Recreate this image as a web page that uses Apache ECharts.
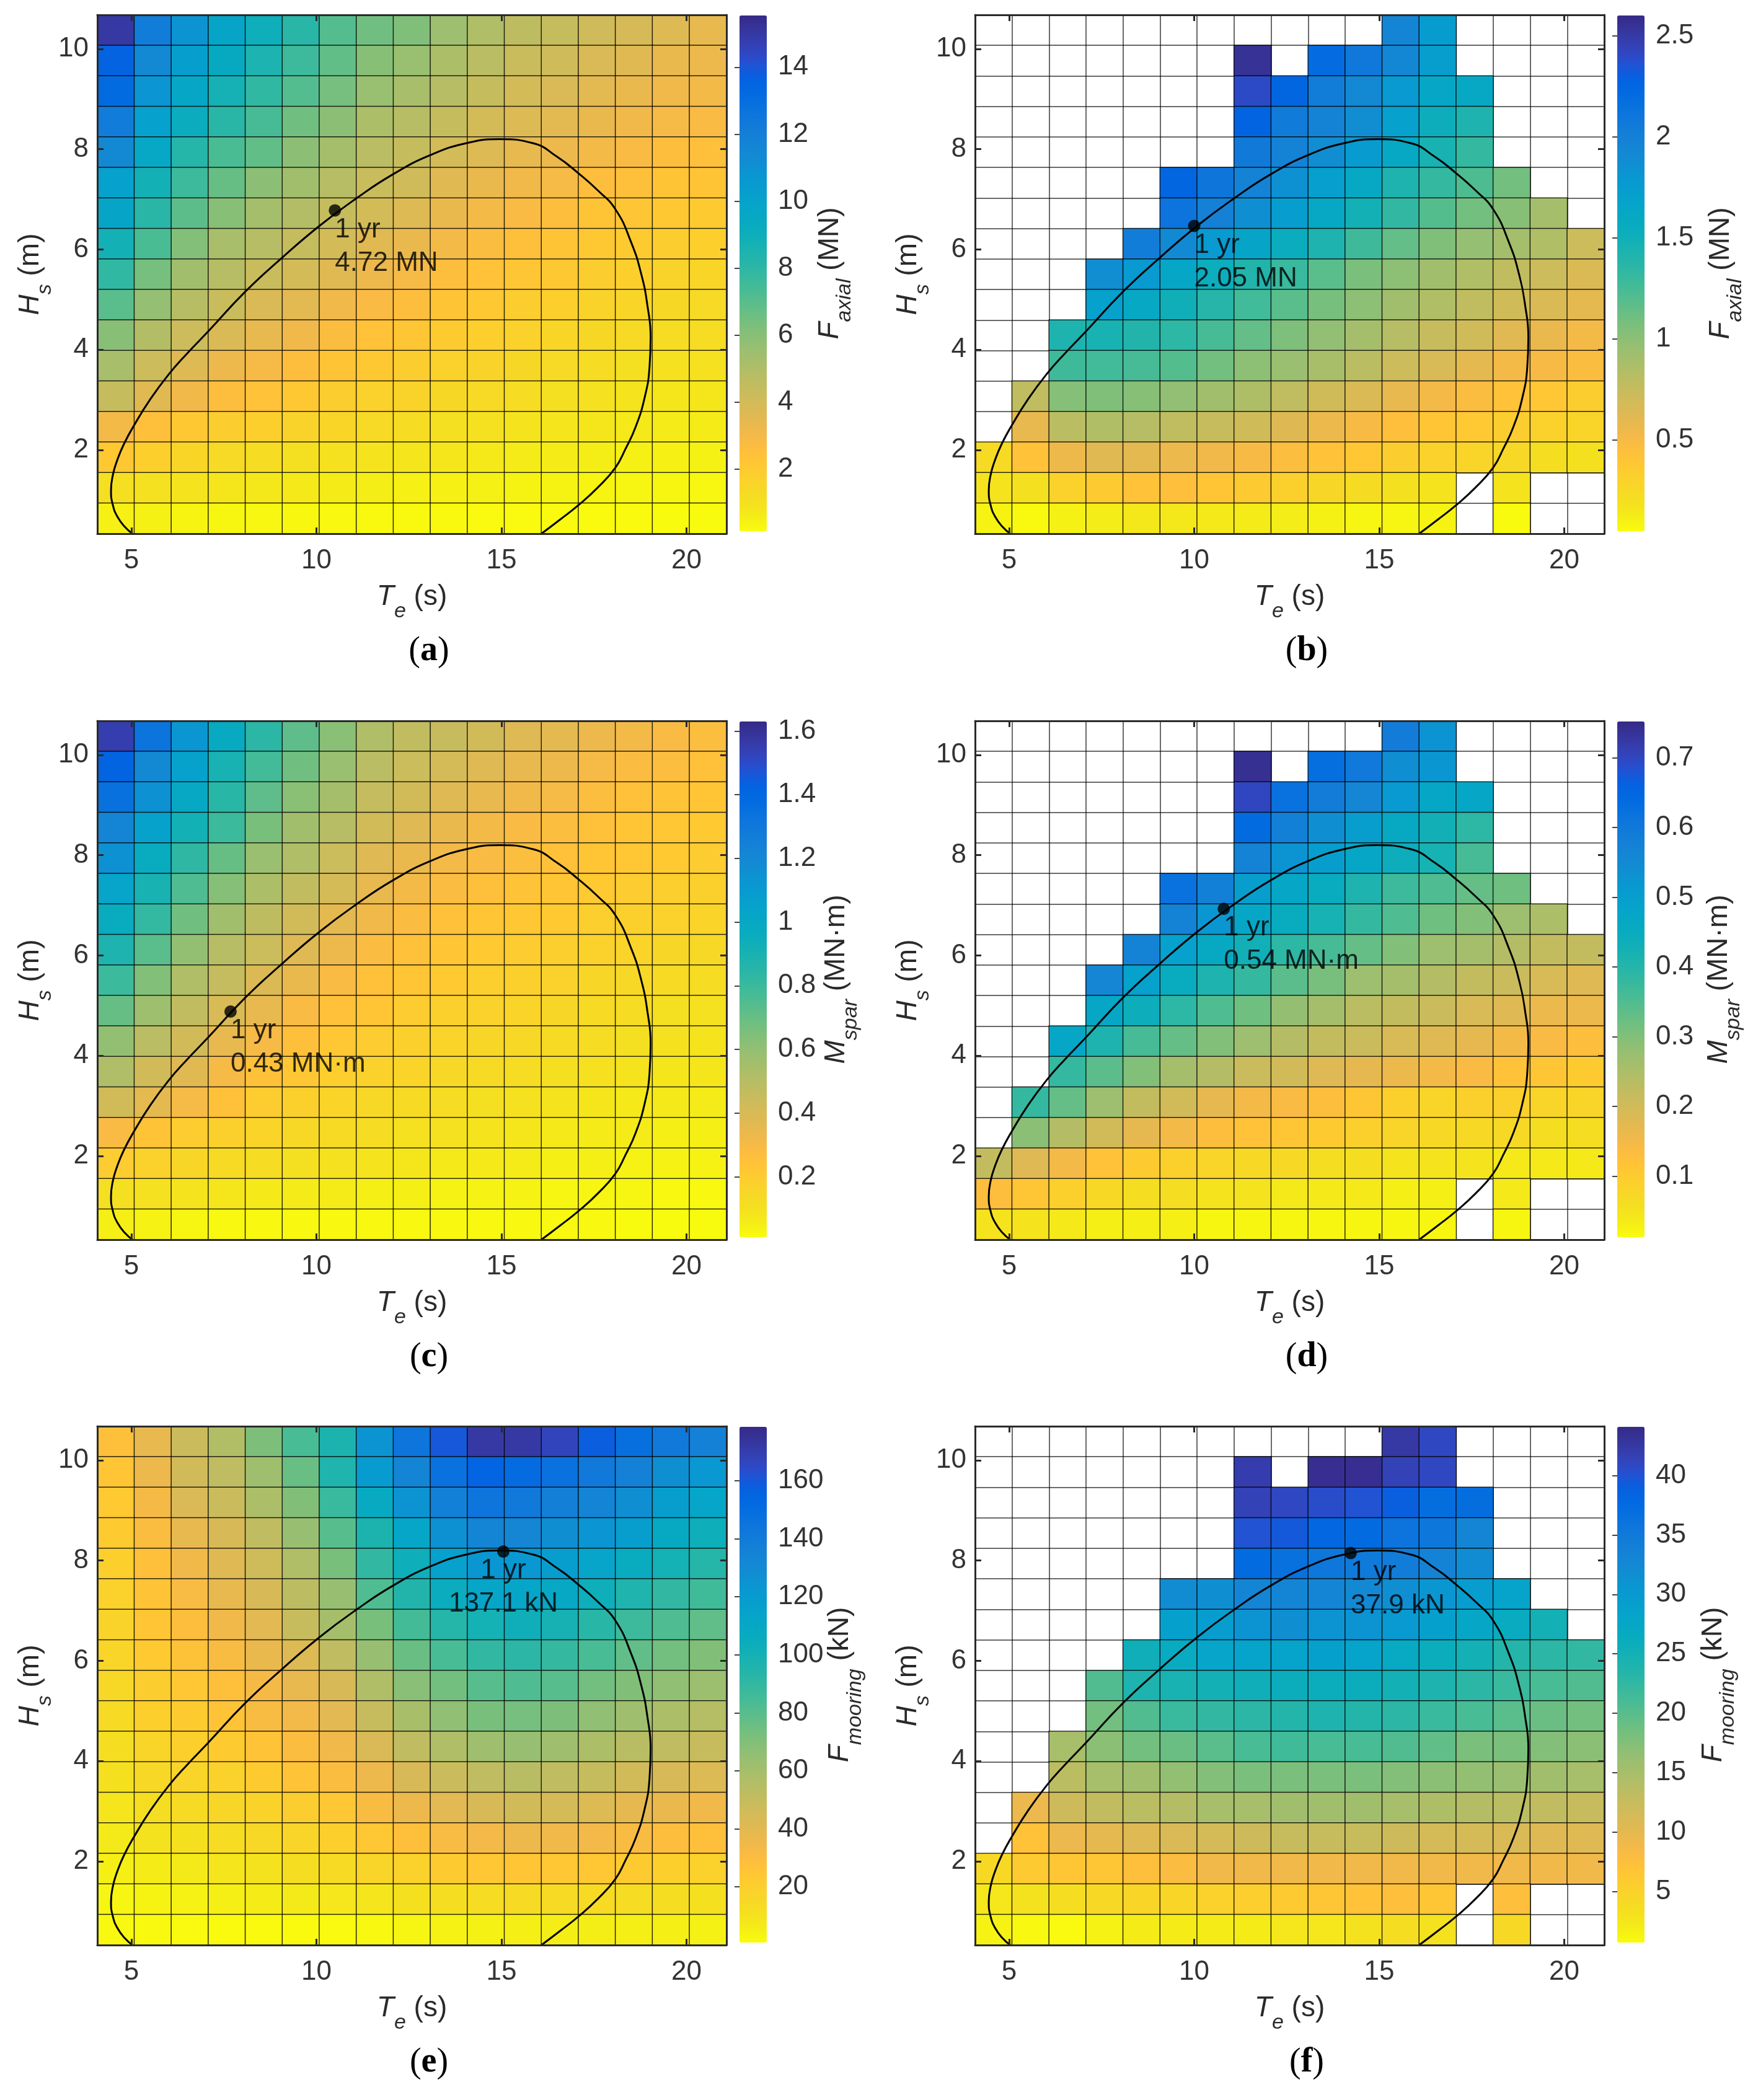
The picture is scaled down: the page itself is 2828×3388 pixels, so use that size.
<!DOCTYPE html>
<html>
<head>
<meta charset="utf-8">
<style>html,body{margin:0;padding:0;background:#fff}#c{width:2828px;height:3388px}</style>
<script src="https://cdn.jsdelivr.net/npm/echarts@6/dist/echarts.min.js"></script>
</head>
<body>
<div id="c"></div>
<script>
const _ = null;
// cell centres of the sea-state grid
const teCells = [4.58,5.58,6.58,7.58,8.58,9.58,10.58,11.58,12.58,13.58,14.58,15.58,16.58,17.58,18.58,19.58,20.58];
const hsCells = [0.63,1.24,1.85,2.46,3.07,3.68,4.29,4.89,5.5,6.11,6.72,7.33,7.94,8.55,9.16,9.77,10.37];
const teTicks = [5,10,15,20];
const hsTicks = [2,4,6,8,10];

// rows run from the top of the panel (largest Hs) to the bottom
const axialA = [
[15.0,12.1,10.9,9.8,9.0,8.1,7.1,6.5,6.2,5.5,5.0,4.6,4.4,4.1,3.9,3.7,3.4],
[13.6,11.4,10.2,9.4,8.5,7.6,6.8,6.0,5.6,5.1,4.7,4.3,4.1,3.8,3.6,3.3,3.2],
[13.2,10.8,9.7,8.7,7.9,7.1,6.4,5.6,5.2,4.8,4.4,4.0,3.8,3.5,3.3,3.1,3.0],
[12.2,10.1,9.2,8.1,7.4,6.5,5.9,5.1,4.8,4.4,4.0,3.7,3.5,3.3,3.1,2.9,2.8],
[11.4,9.6,8.2,7.3,6.8,5.9,5.3,4.7,4.4,4.0,3.7,3.4,3.2,3.0,2.8,2.6,2.5],
[10.1,8.8,7.6,6.7,5.9,5.4,4.8,4.3,4.1,3.6,3.3,3.1,2.9,2.6,2.5,2.3,2.3],
[9.8,8.1,6.9,6.0,5.3,4.9,4.4,4.0,3.7,3.3,3.0,2.8,2.6,2.3,2.2,2.1,2.0],
[8.8,7.3,6.1,5.2,4.8,4.4,4.0,3.6,3.3,3.0,2.7,2.5,2.3,2.1,2.0,1.9,1.8],
[7.9,6.4,5.4,4.8,4.3,4.0,3.6,3.2,2.9,2.6,2.4,2.2,2.1,1.9,1.8,1.6,1.5],
[7.0,5.7,4.8,4.3,3.8,3.5,3.1,2.8,2.6,2.3,2.1,1.9,1.8,1.6,1.5,1.4,1.3],
[6.0,4.9,4.2,3.8,3.4,3.1,2.7,2.4,2.2,2.0,1.8,1.7,1.5,1.4,1.3,1.2,1.2],
[5.2,4.2,3.7,3.2,2.9,2.6,2.3,2.1,1.9,1.7,1.6,1.4,1.3,1.2,1.1,1.0,1.0],
[4.4,3.6,3.1,2.6,2.4,2.1,1.9,1.7,1.6,1.4,1.3,1.2,1.1,1.0,0.9,0.8,0.8],
[3.0,2.5,2.1,1.9,1.8,1.6,1.5,1.3,1.2,1.1,1.0,0.9,0.85,0.8,0.7,0.65,0.6],
[2.1,1.8,1.5,1.3,1.2,1.1,1.0,0.9,0.85,0.8,0.7,0.65,0.6,0.55,0.5,0.48,0.45],
[1.1,1.0,0.9,0.8,0.75,0.7,0.6,0.55,0.5,0.48,0.45,0.4,0.38,0.35,0.33,0.3,0.28],
[0.5,0.45,0.35,0.3,0.28,0.26,0.24,0.22,0.2,0.2,0.18,0.18,0.18,0.17,0.17,0.16,0.16]
];
const axialB = [
[_,_,_,_,_,_,_,_,_,_,_,1.95,1.75,_,_,_,_],
[_,_,_,_,_,_,_,2.55,_,2.2,2.08,1.93,1.73,_,_,_,_],
[_,_,_,_,_,_,_,2.4,2.25,2.03,1.92,1.77,1.63,1.6,_,_,_],
[_,_,_,_,_,_,_,2.27,2.05,1.98,1.88,1.7,1.52,1.42,_,_,_],
[_,_,_,_,_,_,_,2.06,1.98,1.88,1.76,1.6,1.45,1.32,_,_,_],
[_,_,_,_,_,2.25,2.1,1.97,1.85,1.72,1.6,1.42,1.32,1.22,1.1,_,_],
[_,_,_,_,_,2.12,2.0,1.87,1.74,1.6,1.48,1.33,1.2,1.1,1.02,0.9,_],
[_,_,_,_,2.03,1.9,1.77,1.65,1.55,1.42,1.28,1.15,1.05,0.97,0.9,0.85,0.72],
[_,_,_,1.88,1.77,1.64,1.53,1.4,1.3,1.18,1.07,1.0,0.92,0.85,0.78,0.72,0.65],
[_,_,_,1.7,1.6,1.5,1.38,1.27,1.18,1.08,1.0,0.92,0.85,0.78,0.7,0.65,0.6],
[_,_,1.42,1.45,1.4,1.35,1.25,1.15,1.06,0.98,0.9,0.82,0.75,0.7,0.62,0.57,0.52],
[_,_,1.28,1.27,1.25,1.2,1.1,1.0,0.95,0.88,0.8,0.72,0.66,0.6,0.52,0.5,0.47],
[_,0.78,1.03,1.05,1.02,0.98,0.92,0.86,0.78,0.7,0.65,0.58,0.52,0.47,0.42,0.38,0.34],
[_,0.58,0.8,0.85,0.82,0.78,0.75,0.7,0.63,0.56,0.5,0.45,0.4,0.37,0.34,0.3,0.28],
[0.24,0.42,0.55,0.62,0.6,0.56,0.54,0.5,0.46,0.42,0.38,0.34,0.31,0.28,0.25,0.22,0.2],
[0.17,0.2,0.3,0.36,0.42,0.45,0.4,0.36,0.32,0.27,0.23,0.2,0.17,_,0.18,_,_],
[0.09,0.06,0.1,0.12,0.15,0.15,0.14,0.13,0.12,0.1,0.08,0.08,0.09,_,0.05,_,_]
];
const sparC = [
[1.55,1.33,1.12,0.98,0.84,0.72,0.62,0.52,0.47,0.45,0.42,0.38,0.36,0.33,0.31,0.29,0.27],
[1.42,1.2,1.05,0.9,0.78,0.68,0.58,0.49,0.44,0.41,0.38,0.35,0.33,0.3,0.28,0.27,0.25],
[1.35,1.15,1.0,0.85,0.72,0.62,0.55,0.46,0.42,0.38,0.35,0.32,0.3,0.27,0.25,0.24,0.23],
[1.22,1.05,0.92,0.8,0.66,0.56,0.5,0.42,0.38,0.34,0.31,0.29,0.27,0.25,0.23,0.22,0.21],
[1.15,0.97,0.83,0.7,0.58,0.52,0.44,0.38,0.34,0.31,0.29,0.27,0.25,0.23,0.22,0.21,0.2],
[1.03,0.9,0.75,0.63,0.53,0.47,0.41,0.35,0.31,0.28,0.26,0.24,0.23,0.21,0.2,0.19,0.18],
[0.97,0.82,0.68,0.56,0.48,0.42,0.36,0.32,0.28,0.25,0.23,0.22,0.21,0.19,0.18,0.17,0.16],
[0.88,0.73,0.6,0.5,0.44,0.38,0.33,0.28,0.25,0.23,0.21,0.2,0.19,0.17,0.16,0.15,0.14],
[0.8,0.64,0.52,0.46,0.39,0.34,0.29,0.25,0.23,0.21,0.19,0.18,0.17,0.15,0.14,0.13,0.12],
[0.7,0.57,0.47,0.4,0.35,0.29,0.25,0.23,0.2,0.18,0.17,0.16,0.15,0.13,0.12,0.11,0.1],
[0.6,0.49,0.42,0.35,0.3,0.26,0.22,0.2,0.18,0.16,0.15,0.14,0.13,0.12,0.11,0.1,0.09],
[0.52,0.42,0.37,0.3,0.25,0.22,0.19,0.17,0.16,0.14,0.13,0.12,0.11,0.1,0.09,0.08,0.08],
[0.42,0.36,0.3,0.25,0.2,0.18,0.16,0.14,0.13,0.12,0.11,0.1,0.09,0.08,0.07,0.07,0.06],
[0.29,0.24,0.2,0.18,0.16,0.14,0.13,0.12,0.1,0.1,0.09,0.08,0.07,0.06,0.06,0.05,0.05],
[0.2,0.17,0.15,0.13,0.12,0.11,0.1,0.09,0.08,0.07,0.07,0.06,0.05,0.05,0.04,0.04,0.04],
[0.11,0.1,0.09,0.08,0.07,0.06,0.06,0.05,0.05,0.04,0.04,0.04,0.03,0.03,0.03,0.02,0.02],
[0.05,0.04,0.03,0.02,0.02,0.02,0.02,0.02,0.02,0.02,0.02,0.02,0.02,0.02,0.01,0.01,0.01]
];
const sparD = [
[_,_,_,_,_,_,_,_,_,_,_,0.59,0.53,_,_,_,_],
[_,_,_,_,_,_,_,0.74,_,0.63,0.6,0.54,0.52,_,_,_,_],
[_,_,_,_,_,_,_,0.7,0.62,0.59,0.56,0.51,0.47,0.47,_,_,_],
[_,_,_,_,_,_,_,0.64,0.58,0.54,0.5,0.46,0.43,0.39,_,_,_],
[_,_,_,_,_,_,_,0.57,0.53,0.5,0.47,0.44,0.42,0.36,_,_,_],
[_,_,_,_,_,0.62,0.58,0.5,0.47,0.45,0.41,0.37,0.35,0.33,0.32,_,_],
[_,_,_,_,_,0.57,0.52,0.47,0.45,0.42,0.38,0.35,0.32,0.3,0.27,0.25,_],
[_,_,_,_,0.57,0.49,0.46,0.43,0.39,0.36,0.33,0.3,0.27,0.26,0.24,0.22,0.22],
[_,_,_,0.56,0.49,0.45,0.41,0.38,0.34,0.31,0.27,0.26,0.24,0.22,0.21,0.19,0.18],
[_,_,_,0.47,0.44,0.39,0.35,0.32,0.28,0.26,0.23,0.22,0.21,0.19,0.18,0.16,0.16],
[_,_,0.47,0.41,0.36,0.33,0.3,0.27,0.24,0.22,0.21,0.19,0.18,0.17,0.15,0.14,0.13],
[_,_,0.38,0.34,0.3,0.26,0.24,0.21,0.2,0.18,0.17,0.16,0.15,0.14,0.12,0.11,0.1],
[_,0.38,0.33,0.27,0.22,0.2,0.17,0.15,0.14,0.13,0.11,0.09,0.08,0.09,0.09,0.08,0.08],
[_,0.29,0.24,0.2,0.17,0.15,0.13,0.12,0.11,0.1,0.09,0.08,0.07,0.07,0.07,0.06,0.06],
[0.22,0.18,0.15,0.12,0.1,0.09,0.08,0.07,0.07,0.06,0.06,0.05,0.05,0.05,0.04,0.04,0.04],
[0.13,0.11,0.09,0.07,0.06,0.06,0.05,0.05,0.04,0.04,0.04,0.03,0.03,_,0.04,_,_],
[0.05,0.05,0.04,0.03,0.03,0.03,0.02,0.02,0.02,0.02,0.02,0.02,0.02,_,0.02,_,_]
];
const mooringE = [
[28,38,48,56,71,84,97,125,145,160,172,172,167,158,148,142,136],
[25,36,46,52,62,76,96,120,134,147,155,151,147,142,136,128,122],
[23,33,43,48,58,70,88,107,125,137,145,142,138,134,128,118,112],
[22,30,38,44,52,64,80,97,112,126,134,133,128,124,118,108,103],
[20,28,35,41,47,57,72,90,103,116,123,122,118,113,106,100,94],
[19,26,32,38,44,53,64,82,95,105,112,112,109,103,96,90,86],
[18,25,29,35,40,49,60,72,85,94,100,102,99,93,87,82,78],
[17,23,27,31,37,42,52,64,76,84,90,92,89,84,78,74,70],
[15,21,24,28,33,38,44,57,68,74,80,82,80,74,70,66,63],
[14,20,22,26,31,34,40,49,59,66,72,73,71,66,62,58,55],
[12,17,20,22,26,30,35,43,52,57,62,64,62,58,54,52,49],
[11,15,17,19,22,26,30,36,44,48,52,54,52,50,46,44,42],
[9,12,14,16,18,21,24,31,36,40,44,46,45,42,39,37,35],
[7,10,11,13,15,17,20,24,28,32,34,36,35,34,31,29,28],
[5,6,7,9,10,12,14,17,19,22,24,25,24,24,22,20,19],
[3,3.5,4,5,6,7,8,9,11,12,13,14,14,14,13,12,11],
[2,1.5,1.2,1,1,1,1.2,2,3,4,4.5,5,5.5,5.5,5,5,4.5]
];
const mooringF = [
[_,_,_,_,_,_,_,_,_,_,_,42.5,41,_,_,_,_],
[_,_,_,_,_,_,_,42,_,43.5,43.5,41.5,41,_,_,_,_],
[_,_,_,_,_,_,_,41.5,41,40.5,40,39,37,37,_,_,_],
[_,_,_,_,_,_,_,40,39.5,38,37.5,36,35.5,33,_,_,_],
[_,_,_,_,_,_,_,37.5,36.5,35.5,35,34.5,33.5,32,_,_,_],
[_,_,_,_,_,32,31.5,33,33,33,32.5,31.5,30.5,29.5,28.5,_,_],
[_,_,_,_,_,29,29.5,31,31.5,31,31,30,29,27.5,26.5,25,_],
[_,_,_,_,25.5,26.5,28,28.5,28.5,29,28.5,27,26,25,23.5,23,22.5],
[_,_,_,20.5,24,24.5,25,25.5,26,26,26,25,24,23,22,21,20.5],
[_,_,_,18.5,20.5,22,22.5,23,23.5,24,23.5,23,22,21,20,19,18.5],
[_,_,15,17,18.5,19,20,21,21.5,21,21,20.5,19.5,18,18,17.5,17],
[_,_,13.5,15,15.5,16.5,17.5,18,18,18,18,17.5,17,16.5,16,15.5,15],
[_,9.5,12,13,13.5,14,15,15,15.5,15.5,15.5,15,14.5,14,13.5,13,12.5],
[_,7,9.5,10,10.5,11,11.5,12,12.5,12.5,12.5,12,11.5,11.5,11,10.5,10.5],
[4,6,6.5,6.5,7.5,8,9,9,9,9,9,9,9,9,9,9,9],
[2.5,3,3.5,4,4.5,4.5,5,5.5,6,6.5,7,7.5,6.5,_,7.5,_,_],
[1.5,1,0.8,1.5,2,2,2,2,2.5,2.5,3,3.5,3,_,4,_,_]
];

// 1-year environmental contour
const contourTe = [5.03,4.82,4.63,4.5,4.45,4.5,4.62,4.8,5.08,5.5,6.0,6.5,7.07,8.08,9.08,10.08,11.08,12.07,13.07,14.05,14.95,15.85,16.5,17.08,17.6,18.08,18.5,18.78,18.95,19.03,19.0,18.87,18.62,18.35,18.08,17.6,17.08,16.6,16.08];
const contourHs = [0.33,0.47,0.66,0.9,1.19,1.5,1.8,2.12,2.5,3.0,3.5,3.92,4.36,5.16,5.84,6.47,7.02,7.5,7.88,8.12,8.2,8.12,7.85,7.52,7.18,6.8,6.15,5.5,4.85,4.25,3.65,3.05,2.45,2.02,1.65,1.25,0.9,0.62,0.33];

// one-year points and their notes
const pointTe = [10.5,10.0,7.68,10.8,15.05,14.23];
const pointHs = [6.78,6.47,4.88,6.93,8.18,8.15];
const pointNotes = ['4.72 MN','2.05 MN','0.43 MN·m','0.54 MN·m','137.1 kN','37.9 kN'];

// colour-bar limits and ticks
const barLimits = [[0.15,15.54],[0.05,2.6],[0.01,1.63],[0.0125,0.752],[0.8,178.6],[0.7,44.1]];
const barTicks = [
 [2,4,6,8,10,12,14],[0.5,1,1.5,2,2.5],
 [0.2,0.4,0.6,0.8,1,1.2,1.4,1.6],[0.1,0.2,0.3,0.4,0.5,0.6,0.7],
 [20,40,60,80,100,120,140,160],[5,10,15,20,25,30,35,40]];
const barQuantity = [['F','axial','MN'],['F','axial','MN'],['M','spar','MN·m'],['M','spar','MN·m'],['F','mooring','kN'],['F','mooring','kN']];
const panelLetters = ['a','b','c','d','e','f'];
const panelValues = [axialA,axialB,sparC,sparD,mooringE,mooringF];

const parula = [[.2081,.1663,.5292],[.2116,.1898,.5777],[.2123,.2138,.627],[.2081,.2386,.6771],[.1959,.2645,.7279],[.1707,.2919,.7792],[.1253,.3242,.8303],[.0591,.3598,.8683],[.0117,.3875,.882],[.006,.4086,.8828],[.0165,.4266,.8786],[.0329,.443,.872],[.0498,.4586,.8641],[.0629,.4737,.8554],[.0723,.4887,.8467],[.0779,.504,.8384],[.0793,.52,.8312],[.0749,.5375,.8263],[.0641,.557,.824],[.0488,.5772,.8228],[.0343,.5966,.8199],[.0265,.6137,.8135],[.0239,.6287,.8038],[.0231,.6418,.7913],[.0228,.6535,.7768],[.0267,.6642,.7607],[.0384,.6743,.7436],[.059,.6838,.7254],[.0843,.6928,.7062],[.1133,.7015,.6859],[.1453,.7098,.6646],[.1801,.7177,.6424],[.2178,.725,.6193],[.2586,.7317,.5954],[.3022,.7376,.5712],[.3482,.7424,.5473],[.3953,.7459,.5244],[.442,.7481,.5033],[.4871,.7491,.484],[.53,.7491,.4661],[.5709,.7485,.4494],[.6099,.7473,.4337],[.6473,.7456,.4188],[.6834,.7435,.4044],[.7184,.7411,.3905],[.7525,.7384,.3768],[.7858,.7356,.3633],[.8185,.7327,.3498],[.8507,.7299,.336],[.8824,.7274,.3217],[.9139,.7258,.3063],[.945,.7261,.2886],[.9739,.7314,.2666],[.9938,.7455,.2403],[.999,.7653,.2164],[.9955,.7861,.1967],[.988,.8066,.1794],[.9789,.8271,.1633],[.9697,.8481,.1475],[.9626,.8705,.1309],[.9589,.8949,.1132],[.9598,.9218,.0948],[.9661,.9514,.0755],[.9763,.9831,.0538]];
const ramp = parula.slice().reverse().map(c => 'rgb(' + c.map(v => Math.round(v * 255)).join(',') + ')');

// layout
const plotLeft = [157,1573], plotTop = [24,1163,2301], plotW = 1015, plotH = 837;
const barOffset = 1036, barW = 44, barH = 832;
const barNameGap = [79,100,89,97,93,88];
const TE_MIN = 4.08, TE_MAX = 21.08, HS_MIN = 0.33, HS_MAX = 10.68;
const INK = '#2a2a2a', GRIDLINE = 'rgba(0,0,0,0.78)';
const SANS = '"Liberation Sans", Arial, sans-serif';
const FS = 44;

function rich(main, sub, rest) {
  return {
    text: `{m|${main}}{s|${sub}}{n| (${rest})}`,
    rich: {
      m: {fontFamily: SANS, fontSize: FS + 2, fontStyle: 'italic', color: INK, lineHeight: 64, verticalAlign: 'top'},
      s: {fontFamily: SANS, fontSize: 34, fontStyle: 'italic', color: INK, lineHeight: 64, verticalAlign: 'bottom'},
      n: {fontFamily: SANS, fontSize: FS + 2, color: INK, lineHeight: 64, verticalAlign: 'top'}
    }
  };
}

const option = {backgroundColor:'#fff', animation:false, grid:[], xAxis:[], yAxis:[], series:[], visualMap:[], title:[]};

panelValues.forEach((rows, p) => {
  const L = plotLeft[p % 2], T = plotTop[Math.floor(p / 2)];
  const gridMain = option.grid.length;
  option.grid.push({left:L, top:T, width:plotW, height:plotH, containLabel:false});
  option.grid.push({left:L, top:T, width:plotW, height:plotH, containLabel:false});
  option.grid.push({left:L + barOffset, top:T + 1, width:barW, height:barH, containLabel:false});

  const gridStyle = {show:true, interval:0, lineStyle:{color:GRIDLINE, width:1.5}};
  const xCat = option.xAxis.length;
  option.xAxis.push({gridIndex:gridMain, type:'category', position:'top', data:teCells, axisLine:{show:false}, axisTick:{show:false}, axisLabel:{show:false}, splitLine:gridStyle});
  const yCat = option.yAxis.length;
  option.yAxis.push({gridIndex:gridMain, type:'category', position:'right', data:hsCells, axisLine:{show:false}, axisTick:{show:false}, axisLabel:{show:false}, splitLine:gridStyle});

  const tickStyle = {lineStyle:{color:INK, width:3}};
  const xVal = option.xAxis.length;
  const xt = rich('T','e','s'), yt = rich('H','s','m'), bt = rich(barQuantity[p][0],barQuantity[p][1],barQuantity[p][2]);
  option.xAxis.push({gridIndex:gridMain, type:'value', position:'bottom', min:TE_MIN, max:TE_MAX, z:10, splitLine:{show:false},
    axisLine:{show:true, onZero:false, lineStyle:{color:INK, width:3}},
    axisTick:{show:true, inside:true, length:10, customValues:teTicks, ...tickStyle},
    axisLabel:{show:true, customValues:teTicks, margin:22, fontFamily:SANS, fontSize:FS, color:'#333'},
    name:xt.text, nameLocation:'middle', nameGap:79, nameTextStyle:{rich:xt.rich}});
  const yVal = option.yAxis.length;
  option.yAxis.push({gridIndex:gridMain, type:'value', position:'left', min:HS_MIN, max:HS_MAX, z:10, splitLine:{show:false},
    axisLine:{show:true, onZero:false, lineStyle:{color:INK, width:3}},
    axisTick:{show:true, inside:true, length:10, customValues:hsTicks, ...tickStyle},
    axisLabel:{show:true, customValues:hsTicks, margin:14, fontFamily:SANS, fontSize:FS, color:'#333'},
    name:yt.text, nameLocation:'middle', nameRotate:90, nameGap:67, nameTextStyle:{rich:yt.rich}});

  // opposite frame sides with their ticks
  option.xAxis.push({gridIndex:gridMain + 1, type:'value', position:'top', min:TE_MIN, max:TE_MAX, z:10, splitLine:{show:false},
    axisLine:{show:true, onZero:false, lineStyle:{color:INK, width:3}},
    axisTick:{show:true, inside:true, length:10, customValues:teTicks, ...tickStyle}, axisLabel:{show:false}});
  option.yAxis.push({gridIndex:gridMain + 1, type:'value', position:'right', min:HS_MIN, max:HS_MAX, z:10, splitLine:{show:false},
    axisLine:{show:true, onZero:false, lineStyle:{color:INK, width:3}},
    axisTick:{show:true, inside:true, length:10, customValues:hsTicks, ...tickStyle}, axisLabel:{show:false}});

  // colour-bar scale
  const lim = barLimits[p];
  option.xAxis.push({gridIndex:gridMain + 2, type:'value', show:false, min:0, max:1});
  option.yAxis.push({gridIndex:gridMain + 2, type:'value', position:'right', min:lim[0], max:lim[1], z:10, splitLine:{show:false},
    axisLine:{show:false},
    axisTick:{show:true, inside:true, length:8, customValues:barTicks[p], lineStyle:{color:'#444', width:2}},
    axisLabel:{show:true, customValues:barTicks[p], margin:18, fontFamily:SANS, fontSize:FS, color:'#333', formatter:v => String(v)},
    name:bt.text, nameLocation:'middle', nameRotate:90, nameGap:barNameGap[p], nameTextStyle:{rich:bt.rich}});

  const cells = [];
  rows.forEach((row, r) => row.forEach((v, c) => { if (v !== null) cells.push([c, rows.length - 1 - r, v]); }));
  const heatIndex = option.series.length;
  option.series.push({type:'heatmap', xAxisIndex:xCat, yAxisIndex:yCat, data:cells, z:2, silent:true,
    itemStyle:{borderColor:GRIDLINE, borderWidth:1.5}, emphasis:{disabled:true}, progressive:0});
  option.series.push({type:'line', xAxisIndex:xVal, yAxisIndex:yVal, data:contourTe.map((t, i) => [t, contourHs[i]]), z:5, silent:true,
    smooth:0.5, showSymbol:false, lineStyle:{color:'#000', width:3}, clip:true});
  option.series.push({type:'scatter', xAxisIndex:xVal, yAxisIndex:yVal, data:[[pointTe[p], pointHs[p]]], z:6, silent:true,
    symbol:'circle', symbolSize:20, itemStyle:{color:'#000'},
    label:{show:true, formatter:'1 yr\n' + pointNotes[p], position:[10, 14], align:p === 4 ? 'center' : 'left', verticalAlign:'top',
      fontFamily:SANS, fontSize:44, lineHeight:54, color:'#000'}});

  option.visualMap.push({type:'continuous', seriesIndex:heatIndex, min:lim[0], max:lim[1], inRange:{color:ramp},
    show:true, calculable:false, hoverLink:false, realtime:false, orient:'vertical', text:null, showLabel:false,
    left:L + barOffset, top:T + 1, itemWidth:barW, itemHeight:barH, padding:0, borderWidth:0, z:8});

  option.title.push({
    text:`{p|(}{b|${panelLetters[p]}}{p|)}`, left:L + 530, top:T + 994, textAlign:'center',
    textStyle:{rich:{p:{fontFamily:'"Liberation Serif", serif', fontSize:56, fontWeight:'normal', color:'#000'},
                      b:{fontFamily:'"Liberation Serif", serif', fontSize:56, fontWeight:'bold', color:'#000'}}}
  });
});

const chart = echarts.init(document.getElementById('c'), null, {renderer:'canvas', width:2828, height:3388});
chart.setOption(option);
</script>
</body>
</html>
